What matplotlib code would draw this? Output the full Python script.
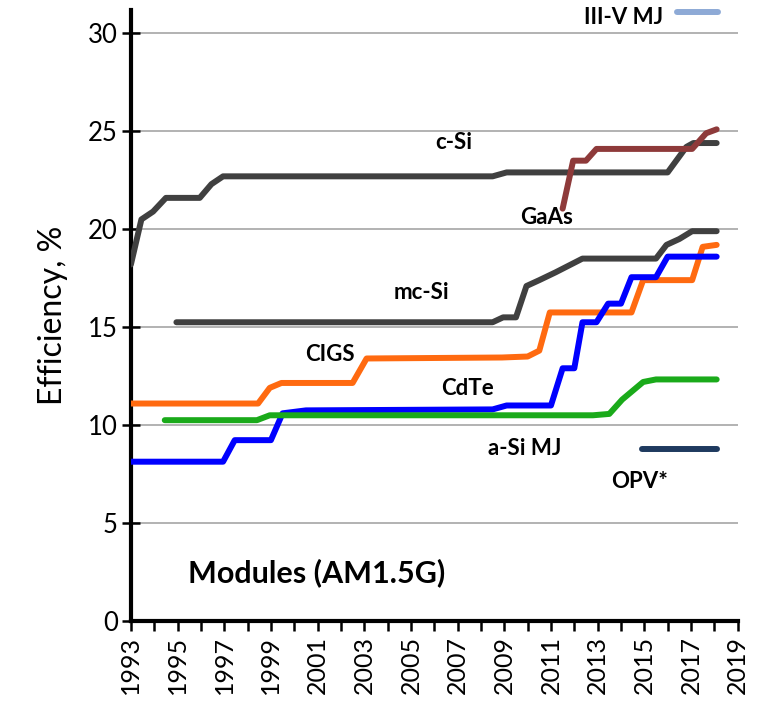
import matplotlib
matplotlib.use("Agg")
import matplotlib.pyplot as plt
from matplotlib.ticker import MultipleLocator

plt.rcParams['font.family'] = ['Lato', 'DejaVu Sans']

# record module efficiencies (year, %)
csi_years = [1993.0, 1993.45, 1993.95, 1994.5, 1995.95, 1996.45, 1996.95, 2008.5, 2009.1, 2016.0, 2016.8, 2017.1, 2018.1]
csi_eff = [18.2, 20.5, 20.9, 21.6, 21.6, 22.3, 22.7, 22.7, 22.9, 22.9, 24.2, 24.4, 24.4]

gaas_years = [2011.5, 2011.95, 2012.5, 2012.95, 2017.05, 2017.65, 2018.1]
gaas_eff = [21.05, 23.5, 23.5, 24.1, 24.1, 24.9, 25.1]

mcsi_years = [1994.95, 2008.5, 2008.95, 2009.5, 2009.95, 2010.5, 2011.2, 2012.35, 2015.5, 2015.95, 2016.5, 2017.05, 2018.1]
mcsi_eff = [15.25, 15.25, 15.5, 15.5, 17.1, 17.4, 17.8, 18.5, 18.5, 19.2, 19.5, 19.9, 19.9]

cigs_years = [1993.0, 1998.45, 1998.95, 1999.45, 2002.5, 2003.1, 2008.9, 2010.0, 2010.5, 2010.95, 2014.45, 2014.95, 2017.05, 2017.5, 2018.1]
cigs_eff = [11.1, 11.1, 11.9, 12.15, 12.15, 13.4, 13.45, 13.5, 13.8, 15.75, 15.75, 17.4, 17.4, 19.1, 19.2]

cdte_years = [1993.0, 1996.95, 1997.45, 1999.0, 1999.5, 2000.5, 2008.5, 2009.1, 2011.0, 2011.5, 2012.0, 2012.35, 2012.95, 2013.45, 2014.0, 2014.45, 2015.5, 2016.0, 2018.1]
cdte_eff = [8.13, 8.13, 9.23, 9.23, 10.6, 10.75, 10.8, 11.0, 11.0, 12.9, 12.9, 15.25, 15.25, 16.2, 16.2, 17.55, 17.55, 18.6, 18.6]

asi_years = [1994.45, 1998.4, 1998.95, 2012.8, 2013.5, 2014.05, 2014.95, 2015.5, 2018.1]
asi_eff = [10.25, 10.25, 10.5, 10.5, 10.57, 11.3, 12.2, 12.33, 12.33]

opv_years = [2014.9, 2018.1]
opv_eff = [8.78, 8.78]

iiiv_years = [2016.4, 2018.15]
iiiv_eff = [31.1, 31.1]

# label text and its centre (year, %)
labels = ["c-Si", "GaAs", "mc-Si", "CIGS", "CdTe", "a-Si MJ", "OPV*", "III-V MJ"]
label_x = [2006.83, 2010.82, 2005.46, 2001.52, 2007.43, 2009.87, 2014.8, 2014.11]
label_y = [24.44, 20.61, 16.79, 13.62, 11.89, 8.78, 7.14, 30.8]

year_ticks = list(range(1993, 2020, 2))

fig = plt.figure(figsize=(7.7, 7.04), dpi=100)
ax = fig.add_axes([0.170, 0.118, 0.788, 0.868])

lw = 4.3
ax.plot(csi_years, csi_eff, color="#404040", lw=lw, solid_capstyle="round", zorder=3)
ax.plot(gaas_years, gaas_eff, color="#8e3a3a", lw=lw, solid_capstyle="round", zorder=4)
ax.plot(mcsi_years, mcsi_eff, color="#404040", lw=lw, solid_capstyle="round", zorder=3)
ax.plot(cigs_years, cigs_eff, color="#ff6a10", lw=lw, solid_capstyle="round", zorder=3)
ax.plot(cdte_years, cdte_eff, color="#0000ff", lw=lw, solid_capstyle="round", zorder=3)
ax.plot(asi_years, asi_eff, color="#1aaa1a", lw=lw, solid_capstyle="round", zorder=3)
ax.plot(opv_years, opv_eff, color="#1f3a5f", lw=lw, solid_capstyle="round", zorder=3)
ax.plot(iiiv_years, iiiv_eff, color="#8eaad6", lw=lw, solid_capstyle="round", zorder=3, clip_on=False)

for txt, x, y in zip(labels, label_x, label_y):
    ax.text(x, y, txt, fontsize=16, fontweight="bold", ha="center", va="center", zorder=5)

ax.text(2000.97, 2.45, "Modules (AM1.5G)", fontsize=22, fontweight="bold", ha="center", va="center")

ax.set_xlim(1993, 2019)
ax.set_ylim(0, 31.2)
ax.set_xticks(year_ticks)
ax.xaxis.set_minor_locator(MultipleLocator(1))
ax.yaxis.set_major_locator(MultipleLocator(5))

for y in range(5, 31, 5):
    ax.axhline(y, color="#a6a6a6", lw=1.2, zorder=1)

ax.spines["top"].set_visible(False)
ax.spines["right"].set_visible(False)
ax.spines["left"].set_linewidth(3)
ax.spines["bottom"].set_linewidth(3)

ax.tick_params(axis="x", which="both", direction="out", length=7, width=1.8, labelsize=18, rotation=90, pad=4)
ax.tick_params(axis="y", direction="inout", length=13, width=1.8, labelsize=18.5, pad=3)

ax.set_ylabel("Efficiency, %", fontsize=23, labelpad=14)

fig.savefig("out.png", dpi=100)
